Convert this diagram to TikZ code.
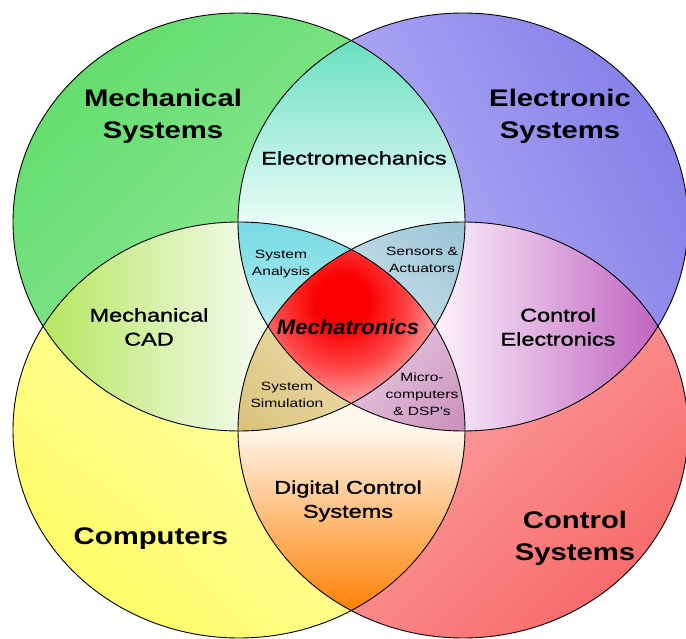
\documentclass[tikz,border=0pt]{standalone}
\usepackage{fontspec}
\usetikzlibrary{shadings}
\setmainfont{Liberation Sans}
\newfontfamily\bigfont[FakeStretch=1.22]{Liberation Sans}
\newfontfamily\midfont[FakeStretch=1.27,FakeBold=1.2]{Liberation Sans}
\newfontfamily\smallfont[FakeStretch=1.3]{Liberation Sans}
\newfontfamily\mechfont[FakeStretch=1.05]{Liberation Sans}

\definecolor{gA}{RGB}{88,218,98}
\definecolor{gM}{RGB}{128,228,138}
\definecolor{gB}{RGB}{178,243,182}
\definecolor{bUL}{RGB}{182,176,247}
\definecolor{bUR}{RGB}{122,118,230}
\definecolor{bLL}{RGB}{208,204,251}
\definecolor{bLR}{RGB}{150,145,236}
\definecolor{yLL}{RGB}{255,250,85}
\definecolor{yM}{RGB}{255,255,150}
\definecolor{yUR}{RGB}{255,255,212}
\definecolor{rUL}{RGB}{255,202,202}
\definecolor{rM}{RGB}{252,150,150}
\definecolor{rLR}{RGB}{246,90,90}
\definecolor{emT}{RGB}{100,222,190}
\definecolor{emB}{RGB}{245,255,252}
\definecolor{cadL}{RGB}{182,230,95}
\definecolor{cadR}{RGB}{246,252,242}
\definecolor{ceL}{RGB}{250,240,250}
\definecolor{ceR}{RGB}{190,95,190}
\definecolor{dcT}{RGB}{255,246,236}
\definecolor{dcB}{RGB}{255,128,0}
\definecolor{saT}{RGB}{115,218,228}
\definecolor{saB}{RGB}{188,236,240}
\definecolor{ssUR}{RGB}{150,195,212}
\definecolor{ssM}{RGB}{182,212,225}
\definecolor{ssLL}{RGB}{216,230,238}
\definecolor{simLL}{RGB}{215,192,118}
\definecolor{simM}{RGB}{228,210,152}
\definecolor{simUR}{RGB}{240,228,186}
\definecolor{miUL}{RGB}{240,222,236}
\definecolor{miM}{RGB}{222,182,212}
\definecolor{miLR}{RGB}{200,138,185}
\definecolor{mRed}{RGB}{250,0,0}
\definecolor{mMid}{RGB}{252,70,70}
\definecolor{mPink}{RGB}{255,190,190}

\pgfdeclareradialshading{mechshade}{\pgfpoint{0bp}{0bp}}{color(0bp)=(mRed); color(6bp)=(mRed); color(15bp)=(mMid); color(25bp)=(mPink); color(50bp)=(mPink)}

\def\pTL{(239,416) ellipse [x radius=226pt, y radius=209pt]}
\def\pTR{(463,416) ellipse [x radius=225pt, y radius=209pt]}
\def\pBL{(239,208) ellipse [x radius=226pt, y radius=208pt]}
\def\pBR{(463,208) ellipse [x radius=225pt, y radius=208pt]}

\tikzset{
  outline/.style={draw=black, line width=0.9pt},
  bigtxt/.style={font=\bigfont\bfseries\fontsize{24}{32}\selectfont, align=center, inner sep=0pt},
  midtxt/.style={font=\midfont\fontsize{18.5}{24}\selectfont, align=center, inner sep=0pt},
  smalltxt/.style={font=\smallfont\fontsize{12}{17}\selectfont, align=center, inner sep=0pt},
  mechtxt/.style={font=\mechfont\bfseries\itshape\fontsize{21}{24}\selectfont, inner sep=0pt},
}

\begin{document}
\begin{tikzpicture}[x=1pt,y=1pt]
\fill[white] (0,0) rectangle (686,638);
\useasboundingbox (0,0) rectangle (686,638);

% the four sets
\shade[upper left=gA, upper right=gM, lower left=gM, lower right=gB] \pTL;
\shade[upper left=bUL, upper right=bUR, lower left=bLL, lower right=bLR] \pTR;
\shade[upper left=yM, upper right=yUR, lower left=yLL, lower right=yM] \pBL;
\shade[upper left=rUL, upper right=rM, lower left=rM, lower right=rLR] \pBR;

% pairs
\begin{scope}
  \clip \pTL; \clip \pTR;
  \fill[emB] (0,0) rectangle (686,638);
  \shade[top color=emT, bottom color=emB] (230,400) rectangle (470,605);
\end{scope}
\begin{scope}
  \clip \pTL; \clip \pBL;
  \fill[cadR] (0,0) rectangle (686,638);
  \shade[left color=cadL, right color=cadR] (40,200) rectangle (265,420);
\end{scope}
\begin{scope}
  \clip \pTR; \clip \pBR;
  \fill[ceL] (0,0) rectangle (686,638);
  \shade[left color=ceL, right color=ceR] (440,200) rectangle (666,420);
\end{scope}
\begin{scope}
  \clip \pBL; \clip \pBR;
  \fill[dcT] (0,0) rectangle (686,638);
  \shade[top color=dcT, bottom color=dcB] (230,25) rectangle (470,210);
\end{scope}

% triples
\begin{scope}
  \clip \pTL; \clip \pTR; \clip \pBL;
  \shade[top color=saT, bottom color=saB] (230,300) rectangle (360,420);
\end{scope}
\begin{scope}
  \clip \pTL; \clip \pTR; \clip \pBR;
  \shade[upper left=ssM, upper right=ssUR, lower left=ssLL, lower right=ssM] (340,300) rectangle (470,420);
\end{scope}
\begin{scope}
  \clip \pTL; \clip \pBL; \clip \pBR;
  \shade[upper left=simM, upper right=simUR, lower left=simLL, lower right=simM] (230,200) rectangle (360,340);
\end{scope}
\begin{scope}
  \clip \pTR; \clip \pBL; \clip \pBR;
  \shade[upper left=miUL, upper right=miM, lower left=miM, lower right=miLR] (340,200) rectangle (470,340);
\end{scope}

% all four
\begin{scope}
  \clip \pTL; \clip \pTR; \clip \pBL; \clip \pBR;
  \fill[mPink] (0,0) rectangle (686,638);
  \shade[shading=mechshade] (342,336) circle (110pt);
\end{scope}

% outlines
\draw[outline] \pTL;
\draw[outline] \pTR;
\draw[outline] \pBL;
\draw[outline] \pBR;

% labels
\node[bigtxt] (msys) at (163,522) {Mechanical\\Systems};
\node[bigtxt] (esys) at (560,522) {Electronic\\Systems};
\node[bigtxt] (comp) at (151,99) {Computers};
\node[bigtxt] (csys) at (575,100) {Control\\Systems};
\node[midtxt] (emech) at (354,480) {Electromechanics};
\node[midtxt] (mcad) at (149,311) {Mechanical\\CAD};
\node[midtxt] (celec) at (558,311) {Control\\Electronics};
\node[midtxt] (dcs) at (348,137) {Digital Control\\Systems};
\node[smalltxt] (sa) at (281,374) {System\\Analysis};
\node[smalltxt] (sens) at (422,378) {Sensors \&\\Actuators};
\node[smalltxt] (ssim) at (287,243) {System\\Simulation};
\node[smalltxt] (micro) at (422,244) {Micro-\\computers\\\& DSP's};
\node[mechtxt] (mech) at (348,311) {Mechatronics};
\end{tikzpicture}
\end{document}
